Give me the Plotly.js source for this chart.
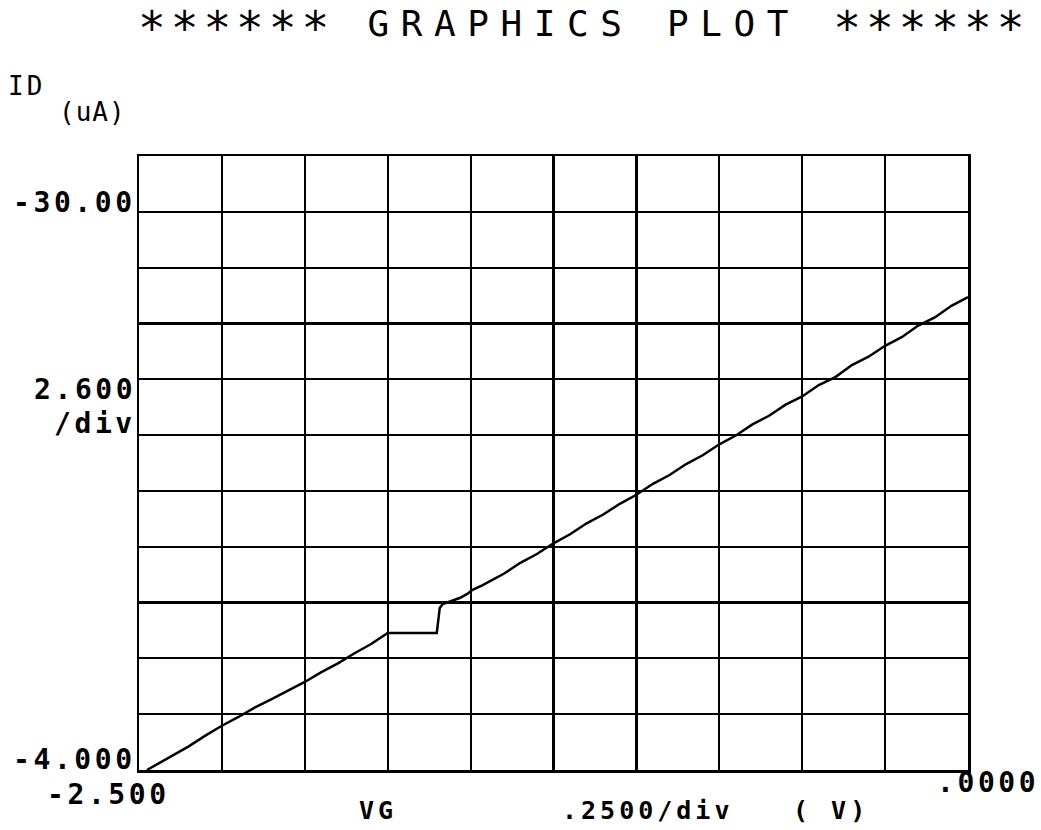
<!DOCTYPE html>
<html>
<head>
<meta charset="utf-8">
<script src="https://cdn.plot.ly/plotly-3.0.1.min.js"></script>
<style>html,body{margin:0;padding:0;background:#fff;}#chart{width:1041px;height:830px;}</style>
</head>
<body>
<div id="chart"></div>
<script>
// ---- data ----
const vg = [-2.476, -2.45, -2.40, -2.35, -2.30, -2.25, -2.20, -2.15, -2.10, -2.05, -2.00, -1.95, -1.90, -1.85, -1.80, -1.75,
            -1.70, -1.65, -1.602, -1.598, -1.593, -1.584, -1.56, -1.533, -1.51, -1.494, -1.465, -1.434,
            -1.40, -1.35, -1.30, -1.25, -1.20, -1.15, -1.10, -1.05, -1.00, -0.95, -0.90, -0.85, -0.80, -0.75,
            -0.70, -0.65, -0.60, -0.55, -0.50, -0.45, -0.40, -0.35, -0.30, -0.25, -0.20, -0.15, -0.10, -0.05, 0.00];
const id = [-4.00, -4.22, -4.68, -5.10, -5.60, -6.06, -6.47, -6.92, -7.30, -7.72, -8.10, -8.56, -8.97, -9.44, -9.87, -10.38,
            -10.38, -10.38, -10.38, -10.90, -11.55, -11.73, -11.85, -12.01, -12.20, -12.39, -12.60, -12.85,
            -13.14, -13.65, -14.06, -14.56, -14.98, -15.49, -15.90, -16.40, -16.82, -17.33, -17.74, -18.25, -18.66, -19.17,
            -19.58, -20.10, -20.50, -21.02, -21.40, -21.93, -22.30, -22.86, -23.25, -23.76, -24.16, -24.70, -25.08, -25.62, -26.03];

const titleStars = "******";
const titleWords = "GRAPHICS PLOT";
const yTickLabels = ["-30.00", "-4.000"];
const yScaleLabel = ["2.600", "/div"];
const xTickLabels = ["-2.500", ".0000"];
const xUnitLabels = ["VG", ".2500/div", "( V)"];
const yUnitLabels = ["ID", "(uA)"];

// ---- layout helpers (pixel -> paper) ----
const L = 139, R = 968, T = 156, B = 770;
const px = x => (x - L) / (R - L);
const py = y => (B - y) / (B - T);
const mono = "DejaVu Sans Mono, Liberation Mono, monospace";
const tickFont = {family: mono, size: 28, color: "#000", weight: "bold"};
const unitFont = {family: mono, size: 25, color: "#000", weight: "bold"};
const sp = (t, ls) => '<span style="letter-spacing:' + ls + 'px">' + t + '</span>';

function ann(text, x, y, xa, ya, font) {
  return {text: text, xref: "paper", yref: "paper", x: px(x), y: py(y), xanchor: xa, yanchor: ya,
          showarrow: false, font: font, borderpad: 0};
}

const starSpan = '<span style="font-size:46px;letter-spacing:5px;baseline-shift:-8px">' + titleStars + '</span>';
const titleHTML = '<span style="letter-spacing:11.6px">' + starSpan + ' ' + titleWords + ' ' + starSpan + '</span>';

const annotations = [
  ann(titleHTML, 137, 28, "left", "middle", {family: mono, size: 36, color: "#000"}),
  ann(sp(yUnitLabels[0], 3), 7, 86, "left", "middle", {family: mono, size: 26, color: "#000"}),
  ann(sp(yUnitLabels[1], 1), 58, 112, "left", "middle", {family: mono, size: 26, color: "#000"}),
  ann(sp(yTickLabels[0], 3.6), 137, 202, "right", "middle", tickFont),
  ann(sp(yScaleLabel[0], 3.6), 137, 389, "right", "middle", tickFont),
  ann(sp(yScaleLabel[1], 3.6), 137, 423, "right", "middle", tickFont),
  ann(sp(yTickLabels[1], 3.6), 137, 759, "right", "middle", tickFont),
  ann(sp(xTickLabels[0], 3.6), 46, 794, "left", "middle", tickFont),
  ann(sp(xTickLabels[1], 3.6), 1040, 782, "right", "middle", tickFont),
  ann(sp(xUnitLabels[0], 4.0), 358, 810, "left", "middle", unitFont),
  ann(sp(xUnitLabels[1], 4.0), 561, 810, "left", "middle", unitFont),
  ann(sp(xUnitLabels[2], 4.0), 792, 810, "left", "middle", unitFont)
];

const trace = {x: vg, y: id, mode: "lines", type: "scatter",
               line: {color: "#000", width: 2.5}, hoverinfo: "skip"};

const layout = {
  width: 1041, height: 830,
  margin: {l: L, r: 1041 - R, t: T, b: 830 - B, pad: 0},
  paper_bgcolor: "#fff", plot_bgcolor: "#fff",
  showlegend: false,
  xaxis: {range: [-2.5, 0], tick0: -2.5, dtick: 0.25, showticklabels: false, ticks: "",
          showgrid: true, gridcolor: "#000", gridwidth: 2.2, zeroline: false,
          showline: true, linecolor: "#000", linewidth: 2.5, mirror: true, fixedrange: true},
  yaxis: {range: [-4, -32.6], tick0: -4, dtick: 2.6, showticklabels: false, ticks: "",
          showgrid: true, gridcolor: "#000", gridwidth: 2.2, zeroline: false,
          showline: true, linecolor: "#000", linewidth: 2.5, mirror: true, fixedrange: true},
  annotations: annotations
};

Plotly.newPlot("chart", [trace], layout, {staticPlot: true, displayModeBar: false});
</script>
</body>
</html>
